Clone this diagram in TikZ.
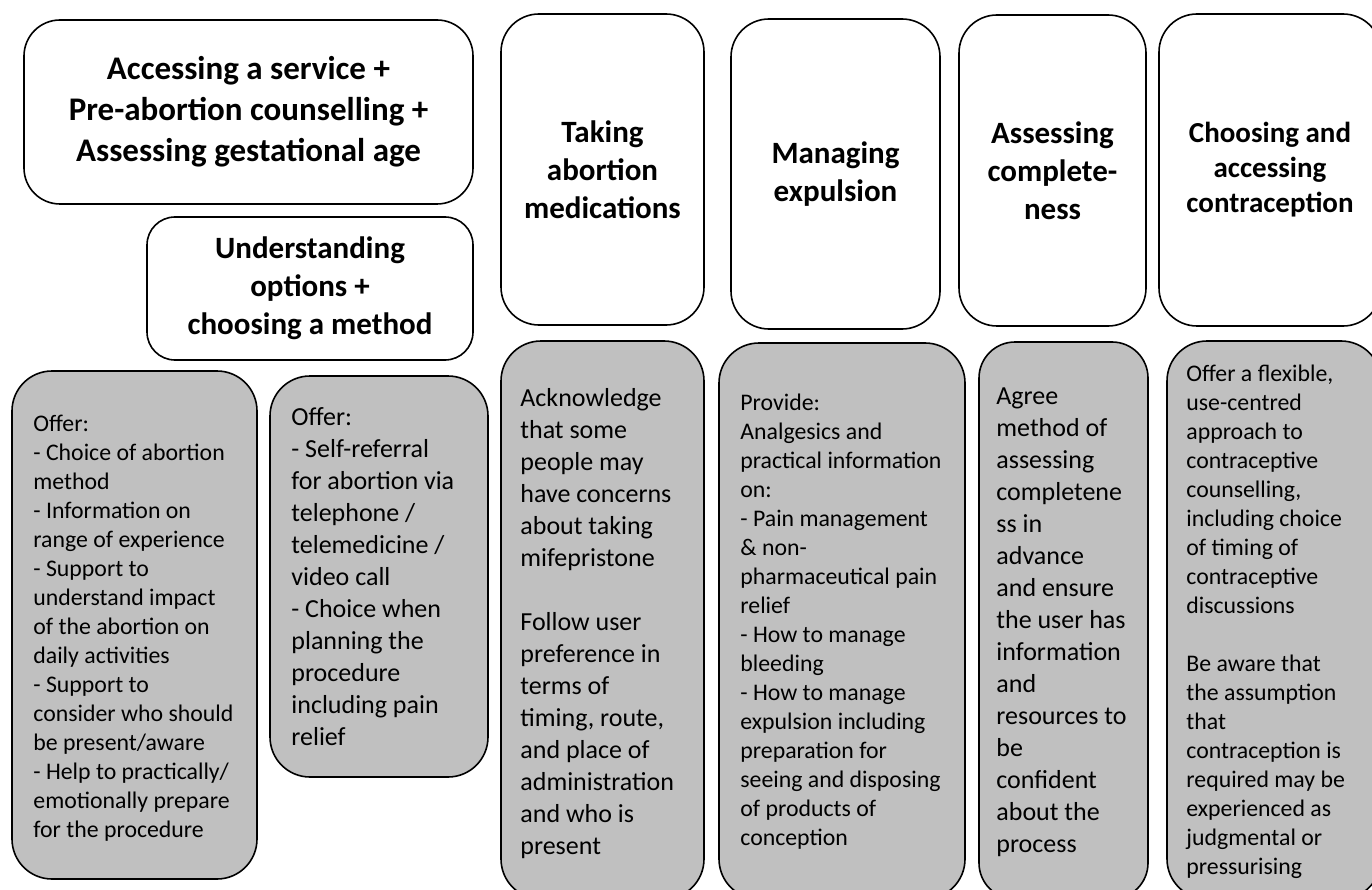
\documentclass[tikz,border=0pt]{standalone}
\usepackage{fontspec}
\setmainfont{Carlito}
\usetikzlibrary{positioning}
\definecolor{boxgray}{RGB}{192,192,192}
\tikzset{
  headbox/.style={draw=black, line width=1.6pt, rounded corners=38pt, fill=white, inner sep=0pt, align=center, font=\bfseries\fontsize{31}{38}\selectfont},
  notebox/.style={draw=black, line width=1.6pt, rounded corners=40pt, fill=boxgray, inner sep=0pt},
  notetext/.style={inner sep=0pt, align=left, font=\fontsize{23.8}{29}\selectfont},
  bigtext/.style={notetext, font=\fontsize{26}{32}\selectfont}
}

\begin{document}
\begin{tikzpicture}[x=1pt, y=-1pt]
  \useasboundingbox (0,0) rectangle (1372,890);
  \clip (0,0) rectangle (1372,890);

  % stage headings
  \node[headbox, rounded corners=36pt, minimum width=449pt, minimum height=184pt, font=\bfseries\fontsize{33}{41}\selectfont] (access) at (248.5,112)
    {Accessing a service +\\Pre-abortion counselling +\\Assessing gestational age};
  \node[headbox, rounded corners=28pt, minimum width=326pt, minimum height=143pt] (options) at (310,288.5)
    {Understanding\\options +\\choosing a method};
  \node[headbox, minimum width=203pt, minimum height=311pt] (taking) at (602.5,169.5)
    {Taking\\abortion\\medications};
  \node[headbox, minimum width=209pt, minimum height=310pt] (expel) at (835.5,174)
    {Managing\\expulsion};
  \node[headbox, minimum width=187pt, minimum height=311pt] (complete) at (1052.5,170.5)
    {Assessing\\complete-\\ness};
  \node[headbox, minimum width=222pt, minimum height=312pt, font=\bfseries\fontsize{29}{35}\selectfont] (contra) at (1270,170)
    {Choosing and\\accessing\\contraception};

  % grey boxes
  \node[notebox, minimum width=245pt, minimum height=508pt] (g1) at (134.5,625) {};
  \node[notebox, minimum width=218pt, minimum height=401pt] (g2) at (379,576.5) {};
  \node[notebox, minimum width=203pt, minimum height=558pt] (g3) at (602.5,620) {};
  \node[notebox, minimum width=246pt, minimum height=556pt] (g4) at (842,621) {};
  \node[notebox, minimum width=169pt, minimum height=557pt, rounded corners=36pt] (g5) at (1063.5,620.5) {};
  \node[notebox, minimum width=214pt, minimum height=558pt] (g6) at (1274,620) {};

  % their texts
  \node[notetext, right=22pt of g1.west, yshift=-3pt] (t1)
    {Offer:\\- Choice of abortion\\method\\- Information on\\range of experience\\- Support to\\understand impact\\of the abortion on\\daily activities\\- Support to\\consider who should\\be present/aware\\- Help to practically/\\emotionally prepare\\for the procedure};
  \node[bigtext, right=22pt of g2.west] (t2)
    {Offer:\\- Self-referral\\for abortion via\\telephone /\\telemedicine /\\video call\\- Choice when\\planning the\\procedure\\including pain\\relief};
  \node[bigtext, right=20pt of g3.west, yshift=-4pt] (t3)
    {Acknowledge\\that some\\people may\\have concerns\\about taking\\mifepristone\\[32pt]Follow user\\preference in\\terms of\\timing, route,\\and place of\\administration\\and who is\\present};
  \node[notetext, right=22pt of g4.west, yshift=-1pt] (t4)
    {Provide:\\Analgesics and\\practical information\\on:\\- Pain management\\\& non-\\pharmaceutical pain\\relief\\- How to manage\\bleeding\\- How to manage\\expulsion including\\preparation for\\seeing and disposing\\of products of\\conception};
  \node[bigtext, right=18pt of g5.west, yshift=-2pt] (t5)
    {Agree\\method of\\assessing\\completene\\ss in\\advance\\and ensure\\the user has\\information\\and\\resources to\\be\\confident\\about the\\process};
  \node[notetext, right=20pt of g6.west, yshift=-2pt] (t6)
    {Offer a flexible,\\use-centred\\approach to\\contraceptive\\counselling,\\including choice\\of timing of\\contraceptive\\discussions\\[29pt]Be aware that\\the assumption\\that\\contraception is\\required may be\\experienced as\\judgmental or\\pressurising};
\end{tikzpicture}
\end{document}
